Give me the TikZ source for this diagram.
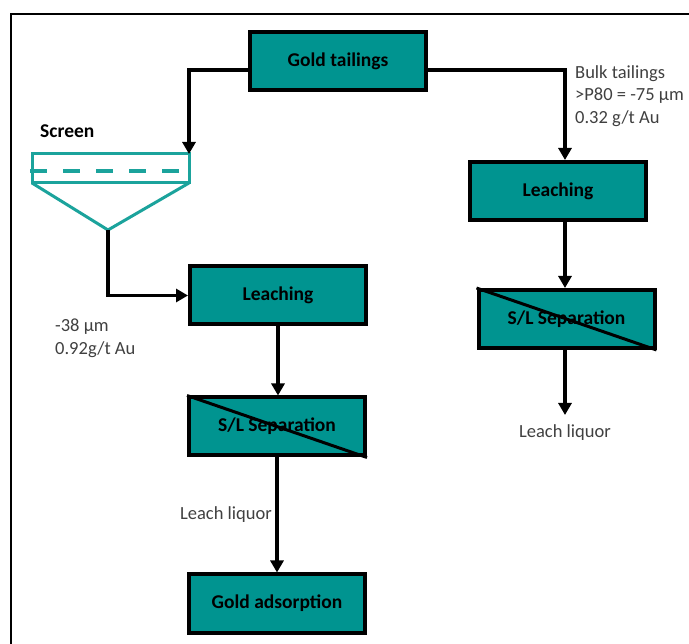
\documentclass[tikz,border=0pt]{standalone}
\usepackage{fontspec}
\setmainfont{Carlito}
\usetikzlibrary{arrows.meta}
\definecolor{teal1}{HTML}{009490}
\definecolor{tealline}{HTML}{1BA39C}
\definecolor{labelgray}{HTML}{404040}
\tikzset{
  procbox/.style={draw=black, line width=4pt, fill=teal1, minimum width=176pt, minimum height=58pt, inner sep=0pt, font=\fontsize{19.5}{21}\selectfont\bfseries},
  flow/.style={line width=3.5pt, -{Triangle[length=12pt,width=13pt]}},
  lbl/.style={text=labelgray, font=\fontsize{18.5}{22.5}\selectfont, inner sep=0pt, align=left},
  screenline/.style={draw=tealline, line width=3pt},
}
\begin{document}
\begin{tikzpicture}[x=1pt,y=-1pt]
\useasboundingbox (0,0) rectangle (689,644);
\fill[white] (0,0) rectangle (689,644);
% frame (only left and top edges visible)
\draw[line width=2pt] (11,644) -- (11,14) -- (689,14);

% boxes
\node[procbox] (gt) at (338,61) {Gold tailings};
\node[procbox] (leachL) at (278,295.5) {Leaching};
\node[procbox] (slL) at (277,426.5) {S/L Separation};
\node[procbox] (ads) at (277,603.5) {Gold adsorption};
\node[procbox] (leachR) at (558,191) {Leaching};
\node[procbox] (slR) at (566.5,319) {S/L Separation};
\draw[line width=3pt] (slL.north west) -- (slL.south east);
\draw[line width=3pt] (slR.north west) -- (slR.south east);

% screen
\coordinate (scrTL) at (32,154);
\coordinate (scrTR) at (189,154);
\coordinate (scrBL) at (32,183);
\coordinate (scrBR) at (189,183);
\coordinate (apex) at (108,230);
\draw[screenline, line join=miter] (scrTL) rectangle (scrBR);
\draw[screenline] (scrBL) -- (apex) -- (scrBR);
\draw[draw=tealline, line width=4pt, dash pattern=on 17pt off 16pt] (30,171) -- (189,171);
\node[font=\fontsize{19.5}{21}\selectfont\bfseries, anchor=west, inner sep=0pt] (scrlbl) at (40,131) {Screen};

% connectors
\coordinate (gtL) at ([yshift=-9pt]gt.west);
\coordinate (gtR) at ([yshift=-9pt]gt.east);
\draw[flow] (gtL) -| (scrTR);
\coordinate (leachRin) at (565,160);
\draw[flow] (gtR) -| (leachRin);
\draw[flow] (apex) |- (leachL.west);
\draw[flow] (leachL.south) -- (slL.north -| leachL.south);
\draw[flow] (slL.south) -- (ads.north);
\draw[flow] ([xshift=7pt]leachR.south) -- ([xshift=-1.5pt]slR.north);
\coordinate (liqR) at (565,415);
\draw[flow] ([xshift=-1.5pt]slR.south) -- (liqR);

% labels
\node[lbl, anchor=north west] (bulk) at (575,65) {Bulk tailings\\>P80 = -75 µm\\0.32 g/t Au};
\node[lbl, anchor=north west] (fine) at (55,319) {-38 µm\\0.92g/t Au};
\node[lbl, anchor=east] (liqL) at (272,515) {Leach liquor};
\node[lbl] (liqRlbl) at (565,433) {Leach liquor};
\end{tikzpicture}
\end{document}
